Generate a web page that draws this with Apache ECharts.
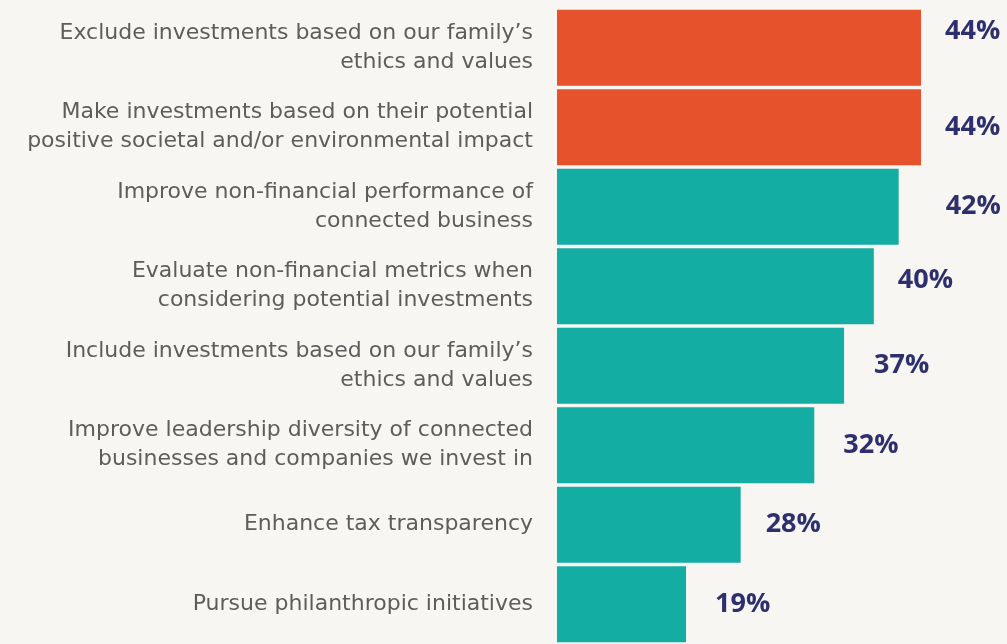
<!DOCTYPE html>
<html>
<head>
<meta charset="utf-8">
<script src="https://cdn.jsdelivr.net/npm/echarts@6/dist/echarts.min.js"></script>
<style>
html,body{margin:0;padding:0;background:#f7f6f2;}
#chart{width:1007px;height:644px;}
</style>
</head>
<body>
<div id="chart"></div>
<script>
var categories = [
  "Exclude investments based on our family\u2019s\nethics and values",
  "Make investments based on their potential\npositive societal and/or environmental impact",
  "Improve non-financial performance of\nconnected business",
  "Evaluate non-financial metrics when\nconsidering potential investments",
  "Include investments based on our family\u2019s\nethics and values",
  "Improve leadership diversity of connected\nbusinesses and companies we invest in",
  "Enhance tax transparency",
  "Pursue philanthropic initiatives"
];
// printed percentages
var values = [44, 44, 42, 40, 37, 32, 28, 19];
// bar lengths as drawn in the picture, on the same % scale (44% bar = 44)
var barValues = [44, 44, 41.3, 38.3, 34.7, 31.1, 22.2, 15.6];
var highlighted = [true, true, false, false, false, false, false, false];

var colorHi = '#e5522b', colorBase = '#13ada4';
var labelDist = [24, 24, 47, 24, 30, 29, 25, 29];
var labelDy = [-16, 0, 0, -6, 0, 0, 0, 0];

var data = barValues.map(function (v, i) {
  return {
    value: v,
    itemStyle: { color: highlighted[i] ? colorHi : colorBase },
    label: { distance: labelDist[i], offset: [0, labelDy[i]] }
  };
});

var chart = echarts.init(document.getElementById('chart'));
chart.setOption({
  backgroundColor: '#f7f6f2',
  animation: false,
  grid: { left: 557, right: 86, top: 8, height: 642, containLabel: false },
  xAxis: { type: 'value', min: 0, max: 44, show: false },
  yAxis: {
    type: 'category', data: categories, inverse: true,
    axisLine: { show: false }, axisTick: { show: false }, splitLine: { show: false },
    axisLabel: {
      margin: 24, fontFamily: 'DejaVu Sans', fontSize: 22, lineHeight: 29,
      color: '#5d5d5d', align: 'right'
    }
  },
  series: [{
    type: 'bar', data: data, barWidth: 76,
    label: {
      show: true, position: 'right',
      fontFamily: 'Open Sans', fontWeight: 'bold', fontSize: 27, color: '#2d2f6f',
      formatter: function (p) { return values[p.dataIndex] + '%'; }
    }
  }]
});
</script>
</body>
</html>
